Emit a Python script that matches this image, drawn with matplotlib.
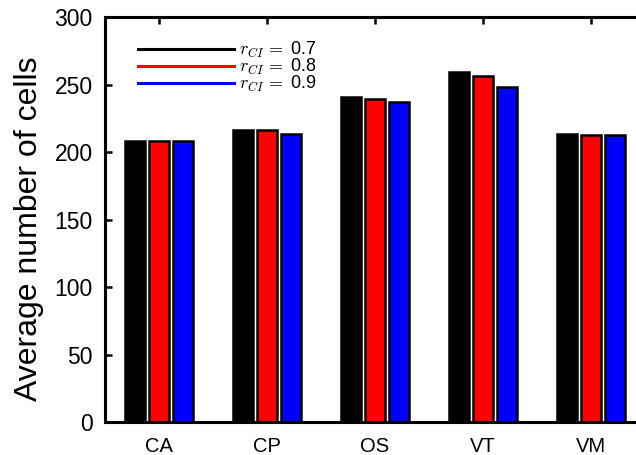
import numpy as np
import matplotlib
matplotlib.use("Agg")
import matplotlib.pyplot as plt

plt.rcParams["font.family"] = ["Liberation Sans", "DejaVu Sans"]
plt.rcParams["mathtext.fontset"] = "cm"

# data
regions = ["CA", "CP", "OS", "VT", "VM"]
r07 = [208.5, 216.5, 240.5, 259.0, 213.0]
r08 = [208.0, 216.0, 239.5, 256.0, 212.5]
r09 = [208.0, 213.0, 237.0, 248.5, 212.5]
series = [(r07, "#000000", r"$r_{CI}\,=$ 0.7"),
          (r08, "#ff0000", r"$r_{CI}\,=$ 0.8"),
          (r09, "#0000ff", r"$r_{CI}\,=$ 0.9")]
yticks = [0, 50, 100, 150, 200, 250, 300]

fig = plt.figure(figsize=(6.36, 4.55), dpi=100)
ax = fig.add_axes([105/636, 33/455, 540/636, 405/455])

x = np.arange(1, len(regions)+1)
step, w = 0.222, 0.19
for i, (vals, c, lab) in enumerate(series):
    ax.bar(x+(i-1)*step, vals, width=w, color=c, edgecolor="k", linewidth=1.8, zorder=2)
    ax.plot([], [], color=c, lw=2.2, label=lab)

ax.set_xlim(0.5, 5.5); ax.set_ylim(0, 300)
ax.set_xticks(x); ax.set_xticklabels(regions)
ax.set_yticks(yticks)
ax.tick_params(axis="x", direction="in", top=True, length=5, width=1.8, labelsize=14.5, pad=11)
ax.tick_params(axis="y", direction="in", right=True, length=5, width=1.8, labelsize=16.5, pad=9)
for s in ax.spines.values(): s.set_linewidth(2.2)
ax.set_ylabel("Average number of cells", fontsize=23)
ax.yaxis.set_label_coords(-0.113, 0.477)

ax.legend(loc="upper left", bbox_to_anchor=(0.035, 0.978), frameon=False, fontsize=13,
          handlelength=5.3, handletextpad=0.25, labelspacing=-0.17, borderpad=0.3)

fig.savefig("out.png", dpi=100)
